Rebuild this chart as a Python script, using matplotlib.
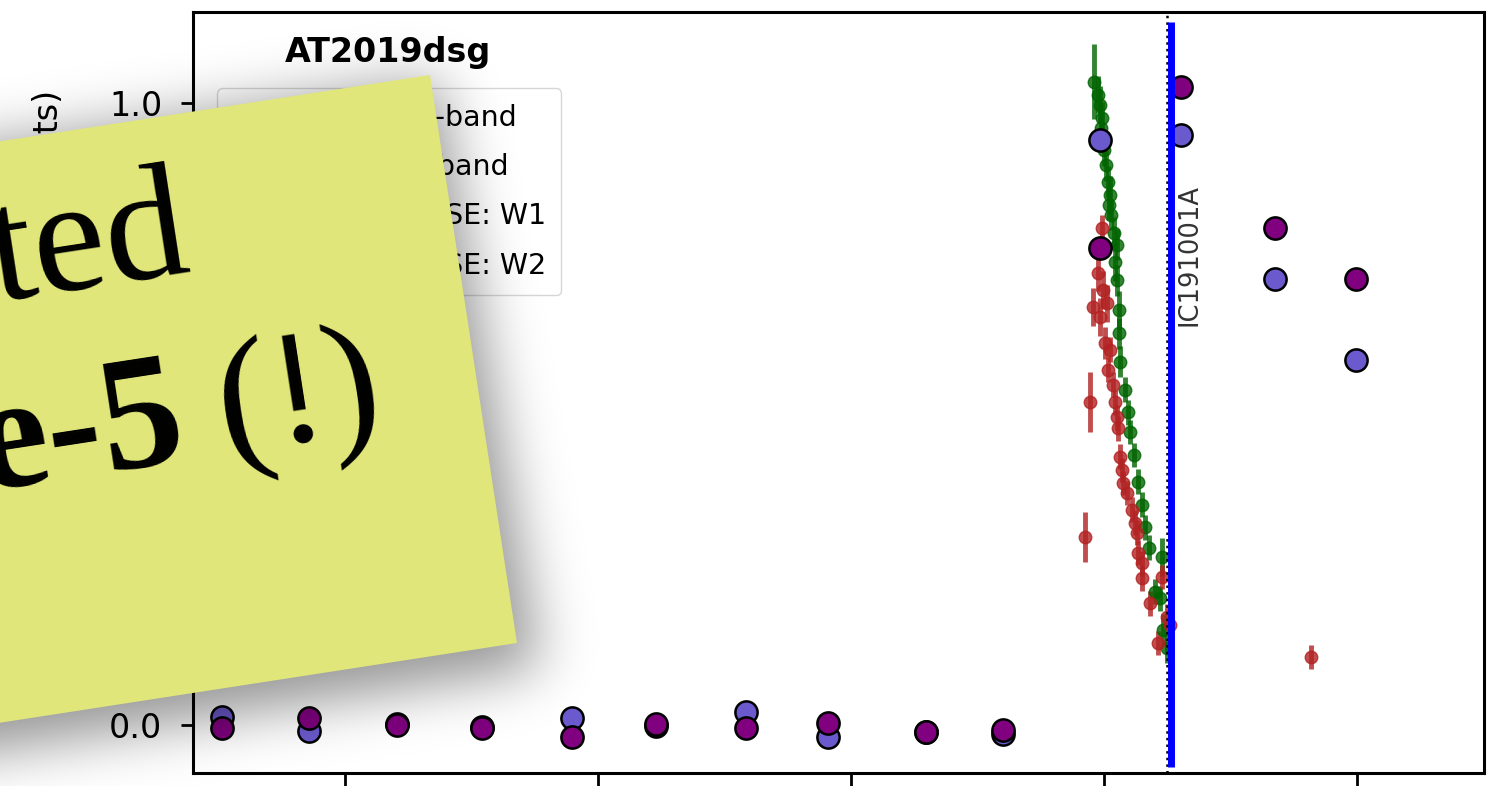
import numpy as np
import matplotlib
matplotlib.use("Agg")
import matplotlib.pyplot as plt
from matplotlib.patches import Polygon
from matplotlib.path import Path
from matplotlib.font_manager import FontProperties

W, H = 1496, 786

# time in days (tick labels lie outside the cropped picture)
wise_t = [257, 429, 603, 771, 949, 1115, 1292, 1454, 1648, 1800, 1992, 2152, 2338, 2498]
wise_w1 = [0.013, -0.010, 0.002, -0.003, 0.011, -0.002, 0.021, -0.019, -0.011, -0.014,
           0.941, 0.949, 0.717, 0.587]
wise_w2 = [-0.005, 0.011, 0.000, -0.005, -0.019, 0.002, -0.005, 0.003, -0.011, -0.008,
           0.767, 1.026, 0.799, 0.717]

ztf_g_t = [1980, 1988, 1992, 1996, 1994, 2000, 2004, 2008, 2012, 2010, 2014, 2020, 2026,
           2022, 2026, 2029, 2029, 2031, 2041, 2047, 2051, 2059, 2067, 2075, 2081, 2089,
           2114, 2100, 2110, 2116, 2124]
ztf_g = [1.034, 1.013, 0.997, 0.976, 0.960, 0.924, 0.900, 0.873, 0.852, 0.836, 0.820, 0.791,
         0.772, 0.744, 0.715, 0.667, 0.630, 0.584, 0.539, 0.503, 0.471, 0.434, 0.391, 0.354,
         0.318, 0.285, 0.270, 0.214, 0.204, 0.153, 0.124]
ztf_g_err = [0.060, 0.030, 0.030, 0.025, 0.025, 0.025, 0.025, 0.025, 0.030, 0.025, 0.025,
             0.025, 0.025, 0.030, 0.025, 0.030, 0.025, 0.025, 0.020, 0.020, 0.020, 0.020,
             0.020, 0.020, 0.020, 0.020, 0.030, 0.020, 0.020, 0.025, 0.025]

ztf_r_t = [1996, 1988, 1998, 1978, 2006, 1992, 2002, 2012, 2008, 2018, 2022, 2026, 2027,
           1972, 2031, 2035, 2037, 2045, 2055, 2061, 2065, 2067, 2075, 2075, 2091, 2114,
           2124, 2130, 2106, 1962, 2409]
ztf_r = [0.799, 0.727, 0.699, 0.672, 0.678, 0.656, 0.614, 0.603, 0.571, 0.547, 0.519, 0.495,
         0.477, 0.519, 0.431, 0.410, 0.389, 0.373, 0.346, 0.325, 0.309, 0.277, 0.260, 0.236,
         0.196, 0.238, 0.174, 0.161, 0.132, 0.302, 0.109]
ztf_r_err = [0.020, 0.030, 0.030, 0.030, 0.030, 0.030, 0.025, 0.020, 0.020, 0.020, 0.020,
             0.020, 0.020, 0.048, 0.020, 0.020, 0.020, 0.020, 0.020, 0.020, 0.020, 0.020,
             0.020, 0.020, 0.020, 0.020, 0.020, 0.020, 0.020, 0.040, 0.019]

nu_dotted_t = 2124
nu_t = 2132
nu_name = "IC191001A"

fig = plt.figure(figsize=(W / 100, H / 100), dpi=100)
ax = fig.add_axes([193 / W, 13 / H, 1291 / W, 761 / H])

h_g = ax.errorbar(ztf_g_t, ztf_g, yerr=ztf_g_err, fmt="o", color="darkgreen", ms=9,
                  elinewidth=3.5, capsize=0, alpha=0.8, label="ZTF: g-band", zorder=3)
h_r = ax.errorbar(ztf_r_t, ztf_r, yerr=ztf_r_err, fmt="o", color="firebrick", ms=9,
                  elinewidth=3.5, capsize=0, alpha=0.8, label="ZTF: r-band", zorder=3)
h_w1, = ax.plot(wise_t, wise_w1, "o", color="slateblue", ms=16, mec="k", mew=1.8,
                label="NEOWISE: W1", zorder=4)
h_w2, = ax.plot(wise_t, wise_w2, "o", color="purple", ms=16, mec="k", mew=1.8,
                label="NEOWISE: W2", zorder=4)

ax.axvline(nu_dotted_t, color="k", ls=":", lw=1.8, zorder=5)
ax.vlines(nu_t, -0.068, 1.13, color="blue", lw=5, zorder=6)
ax.text(nu_t + 38, 0.756, nu_name, rotation=90, ha="center", va="center",
        fontsize=18.5, color="#333333")

ax.set_xlim(200, 2751)
ax.set_ylim(-0.077, 1.146)
ax.set_xticks([500, 1000, 1500, 2000, 2500])
ax.tick_params(labelsize=24, length=9, width=2, pad=13)
ax.tick_params(axis="x", labelbottom=False)
for s in ax.spines.values():
    s.set_linewidth(2.2)

ax.set_ylabel("Normalised flux (arbitrary units)", fontsize=24)
ax.yaxis.set_label_coords(-0.099, 0.545)

ax.text(0.151, 0.947, "AT2019dsg", transform=ax.transAxes, ha="center", va="center",
        fontsize=24, fontweight="bold")
ax.legend(handles=[h_g, h_r, h_w1, h_w2], loc="upper left", bbox_to_anchor=(0.0186, 0.900),
          borderaxespad=0, fontsize=20.5, handlelength=3.2, handletextpad=0.8,
          labelspacing=0.75, borderpad=0.55)

# sticky note overlay, in picture pixels
ov = fig.add_axes([0, 0, 1, 1])
ov.set_xlim(0, W)
ov.set_ylim(H, 0)
ov.axis("off")

note = [(430, 75), (517, 643), (-274, 765), (-361, 197)]
shadow = [(438, 80), (540, 668), (-274, 790), (-361, 197)]

pad, sigma = 160, 28
Hp, Wp = H + 2 * pad, W + 2 * pad
gy, gx = np.mgrid[0:Hp, 0:Wp]
pts = np.column_stack([gx.ravel() - pad + 0.5, gy.ravel() - pad + 0.5])
mask = Path(shadow).contains_points(pts).reshape(Hp, Wp).astype(float)
fy = np.fft.fftfreq(Hp)[:, None]
fx = np.fft.rfftfreq(Wp)[None, :]
blur = np.fft.irfft2(np.fft.rfft2(mask) * np.exp(-2 * (np.pi * sigma) ** 2 * (fx ** 2 + fy ** 2)),
                     s=(Hp, Wp))[pad:pad + H, pad:pad + W]
rgba = np.zeros((H, W, 4))
rgba[..., 3] = np.clip(blur, 0, 1) * 0.42
ov.imshow(rgba, extent=(0, W, H, 0), aspect="auto", interpolation="bilinear", zorder=1)
ov.set_xlim(0, W)
ov.set_ylim(H, 0)

ov.add_patch(Polygon(note, closed=True, facecolor="#e0e67a", edgecolor="none", zorder=2))

theta = 8.75
fp_reg = FontProperties(family="Liberation Serif", size=118)
fp_bold = FontProperties(family="Liberation Serif", size=118, weight="bold")
ov.text(193, 271, "ted", fontproperties=fp_reg, rotation=theta, rotation_mode="anchor",
        ha="right", va="baseline", zorder=4)
ov.text(386, 428, "(!)", fontproperties=fp_reg, rotation=theta, rotation_mode="anchor",
        ha="right", va="baseline", zorder=4)
renderer = fig.canvas.get_renderer()
w_par = renderer.get_text_width_height_descent("(!)", fp_reg, ismath=False)[0]
shift = w_par + 0.22 * 118 * 100 / 72
c, s_ = np.cos(np.radians(theta)), np.sin(np.radians(theta))
ov.text(386 - shift * c, 428 + shift * s_, "e-5", fontproperties=fp_bold, rotation=theta,
        rotation_mode="anchor", ha="right", va="baseline", zorder=4)

fig.savefig("out.png", dpi=100)
